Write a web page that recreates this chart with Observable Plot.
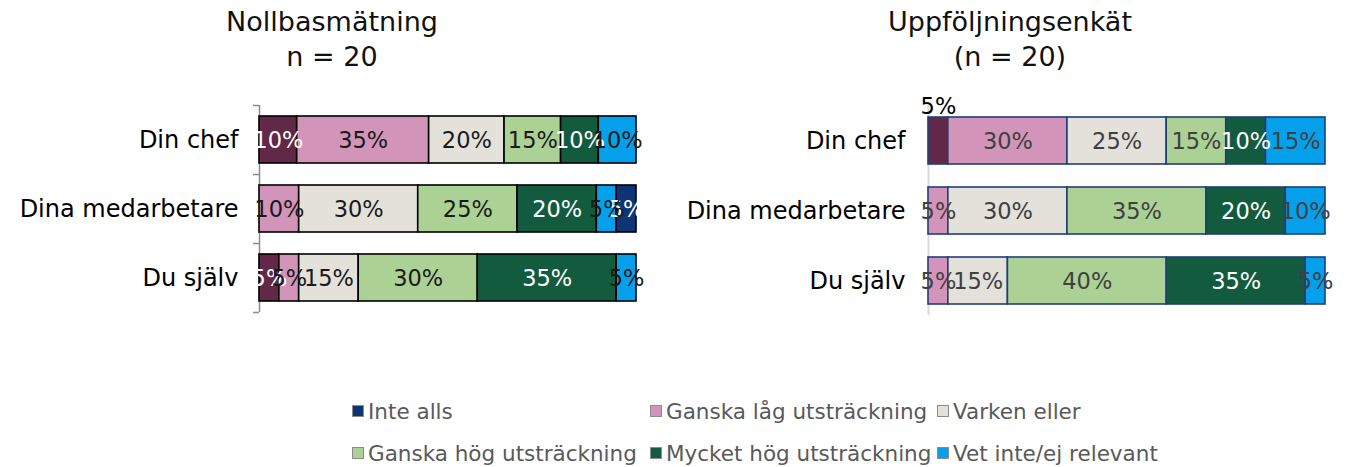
<!DOCTYPE html>
<html>
<head>
<meta charset="utf-8">
<script src="https://cdn.jsdelivr.net/npm/d3@7"></script>
<script src="https://cdn.jsdelivr.net/npm/@observablehq/plot@0.6"></script>
<style>
  html, body { margin: 0; padding: 0; background: #fff; }
  #root { position: relative; width: 1348px; height: 467px; overflow: hidden; font-family: "DejaVu Sans", sans-serif; }
  .title { position: absolute; width: 420px; text-align: center; font-size: 27px; line-height: 35px; color: #111; }
  .panel { position: absolute; top: 0; }
  .leg { position: absolute; display: flex; align-items: center; font-size: 21.5px; color: #595959; white-space: nowrap; }
  .sw { width: 10px; height: 10px; border: 1px solid #8c8c8c; margin-right: 4px; }
</style>
</head>
<body>
<div id="root">
  <div class="title" id="t1" style="left:122px; top:4px;"></div>
  <div class="title" id="t2" style="left:800px; top:4px;"></div>
  <div class="panel" id="p1" style="left:0px;"></div>
  <div class="panel" id="p2" style="left:674px;"></div>
  <div id="legend"></div>
</div>
<script>
// ---- data ----
const categories = ["Din chef", "Dina medarbetare", "Du själv"];
const responses = [
  "Mycket låg utsträckning",
  "Ganska låg utsträckning",
  "Varken eller",
  "Ganska hög utsträckning",
  "Mycket hög utsträckning",
  "Vet inte/ej relevant",
  "Inte alls"
];
const colors = ["#612848", "#d294b9", "#e3e1da", "#acd194", "#135b3e", "#05a0ec", "#0d3576"];
const legendItems = [
  "Inte alls", "Ganska låg utsträckning", "Varken eller",
  "Ganska hög utsträckning", "Mycket hög utsträckning", "Vet inte/ej relevant"
];
const title1 = ["Nollbasmätning", "n = 20"];
const title2 = ["Uppföljningsenkät", "(n = 20)"];

// percent per category, in response order
const baseline = {
  "Din chef":         [10, 35, 20, 15, 10, 10, 0],
  "Dina medarbetare": [0, 10, 30, 25, 20, 5, 5],
  "Du själv":         [5, 5, 15, 30, 35, 5, 0]
};
const followup = {
  "Din chef":         [5, 30, 25, 15, 10, 15, 0],
  "Dina medarbetare": [0, 5, 30, 35, 20, 10, 0],
  "Du själv":         [0, 5, 15, 40, 35, 5, 0]
};

function toRows(table) {
  const rows = [];
  for (const cat of categories) {
    table[cat].forEach((v, i) => { if (v > 0) rows.push({cat, resp: responses[i], value: v}); });
  }
  return rows;
}

const W = 674, H = 330;

function panel(table, cfg) {
  const rows = toRows(table);
  const stackOpts = {x: "value", y: "cat", z: "resp", order: responses, offset: "normalize"};
  const groups = Array.from(new Set(Object.values(cfg.labelColor).map(d => d.color + "|" + (d.dy || 0))));
  const textMarks = groups.map(g => {
    const [c, dy] = g.split("|");
    return Plot.text(rows, Plot.stackX({
      ...stackOpts,
      text: d => {
        const lc = cfg.labelColor[d.resp];
        return (lc.color === c && String(lc.dy || 0) === dy) ? d.value + "%" : null;
      },
      fill: c,
      dy: +dy + 1,
      fontSize: 22.5
    }));
  });
  const marks = [cfg.axisLine];
  if (cfg.ticks) marks.push(...cfg.ticks);
  marks.push(
    Plot.barX(rows, Plot.stackX({...stackOpts, fill: "resp", stroke: cfg.stroke, strokeWidth: 1.6})),
    ...textMarks
  );
  return Plot.plot({
    width: W,
    height: H,
    marginLeft: cfg.marginLeft,
    marginRight: cfg.marginRight,
    marginTop: cfg.marginTop,
    marginBottom: cfg.marginBottom,
    style: {fontFamily: "DejaVu Sans, sans-serif", fontSize: "24px", color: "#000", background: "transparent", overflow: "visible"},
    x: {domain: [0, 1], axis: null},
    y: {domain: categories, paddingInner: cfg.pad, paddingOuter: cfg.pad / 2, tickSize: 0, tickPadding: cfg.tickPadding, label: null},
    color: {domain: responses, range: colors},
    marks
  });
}

const dark = "#1a1a1a", grey = "#404040", white = "#ffffff";
const leftLabels = {
  "Mycket låg utsträckning": {color: white},
  "Ganska låg utsträckning": {color: dark},
  "Varken eller": {color: dark},
  "Ganska hög utsträckning": {color: dark},
  "Mycket hög utsträckning": {color: white},
  "Vet inte/ej relevant": {color: dark},
  "Inte alls": {color: white}
};
const rightLabels = {
  "Mycket låg utsträckning": {color: "#000000", dy: -35},
  "Ganska låg utsträckning": {color: grey},
  "Varken eller": {color: grey},
  "Ganska hög utsträckning": {color: grey},
  "Mycket hög utsträckning": {color: white},
  "Vet inte/ej relevant": {color: grey},
  "Inte alls": {color: white}
};

const step1 = (312 - 105) / 3;
const p1 = panel(baseline, {
  marginLeft: 259, marginRight: 38, marginTop: 105, marginBottom: 18,
  pad: 0.32, tickPadding: 21, stroke: "#000",
  labelColor: leftLabels,
  axisLine: Plot.ruleX([0], {stroke: "#8c8c8c", strokeWidth: 1.5}),
  ticks: [
    Plot.ruleY(categories, {y: d => d, x1: 0, x2: 0, insetLeft: -6, dy: -step1 / 2, stroke: "#8c8c8c", strokeWidth: 1.5}),
    Plot.ruleY(categories.slice(-1), {y: d => d, x1: 0, x2: 0, insetLeft: -6, dy: step1 / 2, stroke: "#8c8c8c", strokeWidth: 1.5})
  ]
});
const p2 = panel(followup, {
  marginLeft: 254, marginRight: 23, marginTop: 105, marginBottom: 15,
  pad: 0.33, tickPadding: 23, stroke: "#1f3f7a",
  labelColor: rightLabels,
  axisLine: Plot.ruleX([0], {stroke: "#d9d9d9", strokeWidth: 2})
});
document.getElementById("p1").appendChild(p1);
document.getElementById("p2").appendChild(p2);

document.getElementById("t1").innerHTML = title1.join("<br>");
document.getElementById("t2").innerHTML = title2.join("<br>");

// legend
const legendPos = [
  [352, 411], [650, 411], [937, 411],
  [352, 453], [650, 453], [937, 453]
];
const leg = document.getElementById("legend");
legendItems.forEach((name, i) => {
  const el = document.createElement("div");
  el.className = "leg";
  el.style.left = legendPos[i][0] + "px";
  el.style.top = (legendPos[i][1] - 12) + "px";
  el.style.height = "24px";
  const sw = document.createElement("span");
  sw.className = "sw";
  sw.style.background = colors[responses.indexOf(name)];
  const tx = document.createElement("span");
  tx.textContent = name;
  el.appendChild(sw);
  el.appendChild(tx);
  leg.appendChild(el);
});
</script>
</body>
</html>
